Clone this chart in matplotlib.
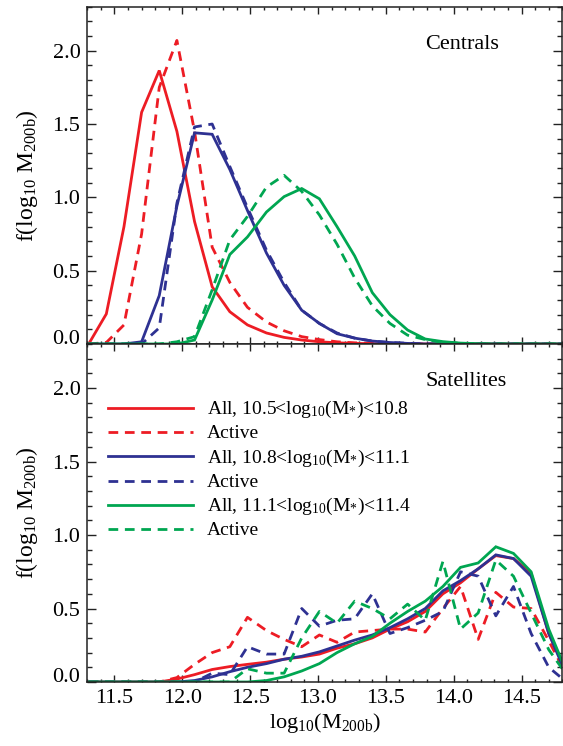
import matplotlib
matplotlib.use("Agg")
import matplotlib.pyplot as plt
from matplotlib.ticker import MultipleLocator, FuncFormatter

plt.rcParams["font.family"] = ["Liberation Serif", "DejaVu Serif"]
plt.rcParams["mathtext.default"] = "regular"

# halo-mass bin centres, log10(M200b)
logm = [11.31, 11.44, 11.57, 11.70, 11.83, 11.96, 12.09, 12.22, 12.35, 12.48,
        12.62, 12.75, 12.88, 13.01, 13.14, 13.27, 13.40, 13.53, 13.66, 13.79,
        13.92, 14.05, 14.18, 14.31, 14.44, 14.57, 14.70, 14.83]

# centrals
cen_r_all = [0.0, 0.205, 0.80, 1.58, 1.865, 1.45, 0.835, 0.39, 0.22, 0.13,
             0.075, 0.045, 0.027, 0.015, 0.008, 0.004, 0.002, 0, 0, 0,
             0, 0, 0, 0, 0, 0, 0, 0]
cen_r_act = [0.0, 0.01, 0.13, 0.75, 1.75, 2.07, 1.45, 0.66, 0.42, 0.25,
             0.15, 0.09, 0.05, 0.03, 0.015, 0.008, 0.004, 0.002, 0, 0,
             0, 0, 0, 0, 0, 0, 0, 0]
cen_b_all = [0, 0, 0, 0.015, 0.33, 0.94, 1.44, 1.43, 1.19, 0.91,
             0.62, 0.40, 0.23, 0.14, 0.07, 0.04, 0.02, 0.01, 0.004, 0,
             0, 0, 0, 0, 0, 0, 0, 0]
cen_b_act = [0, 0, 0, 0, 0.11, 0.96, 1.48, 1.50, 1.21, 0.93,
             0.64, 0.42, 0.23, 0.14, 0.075, 0.04, 0.02, 0.01, 0.005, 0,
             0, 0, 0, 0, 0, 0, 0, 0]
cen_g_all = [0, 0, 0, 0, 0, 0, 0.027, 0.30, 0.61, 0.73,
             0.90, 1.005, 1.06, 0.99, 0.80, 0.60, 0.35, 0.20, 0.095, 0.034,
             0.016, 0.006, 0.002, 0, 0, 0, 0, 0]
cen_g_act = [0, 0, 0, 0, 0, 0.015, 0.05, 0.37, 0.71, 0.87,
             1.07, 1.15, 1.04, 0.88, 0.68, 0.45, 0.26, 0.14, 0.06, 0.03,
             0.01, 0.005, 0, 0, 0, 0, 0, 0]

# satellites
sat_r_all = [0, 0, 0, 0, 0, 0.02, 0.05, 0.085, 0.105, 0.12,
             0.135, 0.155, 0.17, 0.19, 0.23, 0.26, 0.30, 0.36, 0.41, 0.48,
             0.60, 0.675, 0.77, 0.86, 0.84, 0.74, 0.33, 0.07]
sat_r_act = [0, 0, 0, 0, 0, 0.03, 0.12, 0.20, 0.24, 0.44,
             0.35, 0.29, 0.24, 0.32, 0.27, 0.34, 0.35, 0.36, 0.36, 0.34,
             0.50, 0.65, 0.29, 0.61, 0.51, 0.50, 0.28, 0.05]
sat_b_all = [0, 0, 0, 0, 0, 0, 0.01, 0.035, 0.07, 0.10,
             0.125, 0.155, 0.175, 0.205, 0.245, 0.285, 0.32, 0.37, 0.43, 0.50,
             0.62, 0.69, 0.77, 0.865, 0.84, 0.72, 0.33, 0.05]
sat_b_act = [0, 0, 0, 0, 0, 0, 0.0, 0.06, 0.05, 0.24,
             0.19, 0.19, 0.50, 0.38, 0.42, 0.43, 0.60, 0.33, 0.37, 0.42,
             0.48, 0.75, 0.72, 0.45, 0.65, 0.33, 0.10, 0.0]
sat_g_all = [0, 0, 0, 0, 0, 0, 0, 0, 0, 0.0,
             0.01, 0.035, 0.075, 0.125, 0.20, 0.26, 0.31, 0.40, 0.48, 0.55,
             0.65, 0.78, 0.81, 0.92, 0.875, 0.75, 0.36, 0.07]
sat_g_act = [0, 0, 0, 0, 0, 0, 0, 0, 0, 0.09,
             0.06, 0.06, 0.30, 0.48, 0.40, 0.55, 0.50, 0.43, 0.53, 0.42,
             0.82, 0.36, 0.47, 0.83, 0.72, 0.47, 0.22, 0.05]

bins = ["10.5<log$_{10}$(M$_{*}$)<10.8", "10.8<log$_{10}$(M$_{*}$)<11.1",
        "11.1<log$_{10}$(M$_{*}$)<11.4"]
colors = ["#ed1c24", "#2e3192", "#00a651"]

LW = 2.0
DASH = (3.5, 2.4)
TICKFS = 16


def ylab(v, pos):
    # the 0.0 label is drawn by hand, a little above its tick
    return "" if abs(v) < 1e-9 else f"{v:.1f}"


fig = plt.figure(figsize=(5.63, 7.46), dpi=100)
ax1 = fig.add_axes([0.1551, 0.5389, 0.8437, 0.4521])
ax2 = fig.add_axes([0.1551, 0.0858, 0.8437, 0.4531])

panels = [
    (ax1, [(cen_r_all, cen_r_act), (cen_b_all, cen_b_act), (cen_g_all, cen_g_act)], "Centrals"),
    (ax2, [(sat_r_all, sat_r_act), (sat_b_all, sat_b_act), (sat_g_all, sat_g_act)], "Satellites"),
]

for ax, series, title in panels:
    for (yall, yact), c in zip(series, colors):
        ax.plot(logm, yall, color=c, lw=LW, solid_joinstyle="miter")
        ax.plot(logm, yact, color=c, lw=LW, ls=(0, DASH))
    ax.set_xlim(11.3, 14.8)
    ax.set_ylim(0, 2.3)
    ax.xaxis.set_major_locator(MultipleLocator(0.5))
    ax.xaxis.set_minor_locator(MultipleLocator(0.1))
    ax.yaxis.set_major_locator(MultipleLocator(0.5))
    ax.yaxis.set_minor_locator(MultipleLocator(0.1))
    ax.yaxis.set_major_formatter(FuncFormatter(ylab))
    ax.tick_params(which="both", direction="in", top=True, right=True,
                   width=1.0, color="#222222")
    ax.tick_params(axis="x", which="major", length=4.8)
    ax.tick_params(axis="x", which="minor", length=2.4)
    ax.tick_params(axis="y", which="major", length=6.7)
    ax.tick_params(axis="y", which="minor", length=3.3)
    ax.tick_params(axis="both", labelsize=TICKFS, pad=5)
    for s in ax.spines.values():
        s.set_linewidth(1.1)
        s.set_color("#222222")
    ax.set_ylabel("f(log$_{10}$ M$_{200b}$)", fontsize=17)
    ax.yaxis.set_label_coords(-0.10, 0.5)
    ax.text(-0.016, 0.0, "0.0", transform=ax.get_yaxis_transform(),
            fontsize=TICKFS, ha="right", va="baseline")
    ax.text(0.711, 0.888, title, transform=ax.transAxes, fontsize=TICKFS,
            ha="left", va="center")

ax1.tick_params(axis="x", labelbottom=False)
ax2.set_xlabel("log$_{10}$(M$_{200b}$)", fontsize=16)
ax2.xaxis.set_label_coords(0.5, -0.085)

# legend, drawn by hand in the lower panel
rows = [0.811, 0.740, 0.668, 0.596, 0.524, 0.453]
for k, c in enumerate(colors):
    for j, (ls, lab) in enumerate([("-", "All, " + bins[k]), ((0, DASH), "Active")]):
        yy = rows[2 * k + j]
        ax2.plot([0.043, 0.222], [yy, yy], transform=ax2.transAxes,
                 color=c, lw=LW, ls=ls)
        ax2.text(0.2524, yy - 0.019, lab, transform=ax2.transAxes,
                 fontsize=14, ha="left", va="baseline")

fig.savefig("out.png", dpi=100)
